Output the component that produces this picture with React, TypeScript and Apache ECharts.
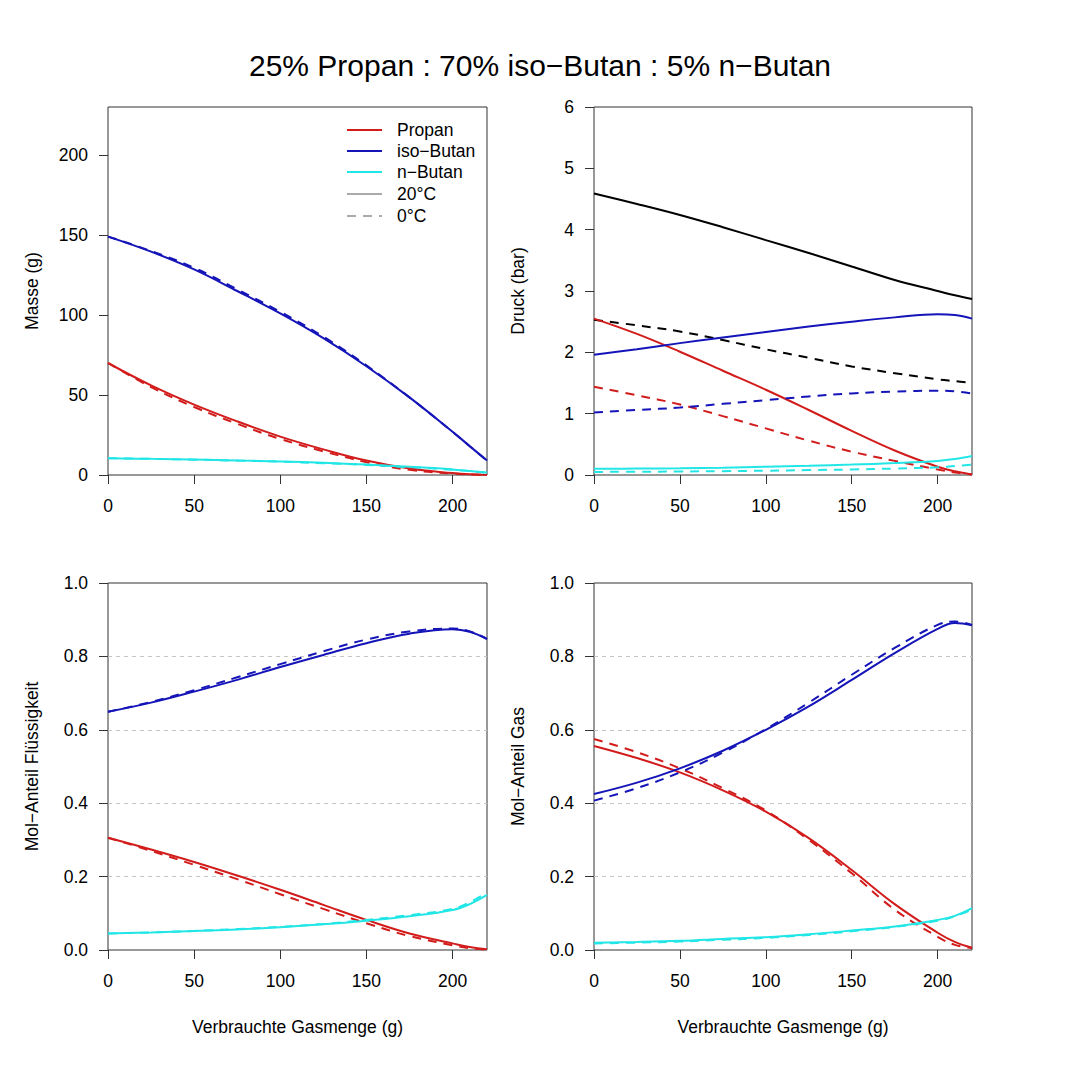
import React, { useEffect, useRef } from "react";
import * as echarts from "echarts";

const FONT = "'Liberation Sans', Arial, Helvetica, sans-serif";
const FS = 17.5;

const gasUsed = [0, 25, 50, 75, 100, 125, 150, 175, 200, 210, 220];
const xTicks = [0, 50, 100, 150, 200];

// Panel 1: Masse (g)
const massPropan20 = [70, 56, 44, 33.5, 24, 16, 9, 4, 1.2, 0.4, 0];
const massPropan0 = [70, 55, 42.5, 32, 22.5, 14.8, 8, 3.2, 0.9, 0.3, 0];
const massIso20 = [149, 139.6, 128.5, 115, 101, 85.5, 68, 48.5, 27, 18, 9];
const massIso0 = [149, 140, 129.5, 116, 102, 86.5, 68.5, 48.5, 27, 18, 9];
const massNbut20 = [10.5, 10.1, 9.7, 9.1, 8.5, 7.6, 6.5, 5.1, 3.5, 2.5, 1.5];
const massNbut0 = [10.5, 10.1, 9.6, 9.0, 8.3, 7.4, 6.3, 4.9, 3.3, 2.4, 1.5];
const massTicks = [0, 50, 100, 150, 200];

// Panel 2: Druck (bar)
const pTotal20 = [4.59, 4.42, 4.24, 4.04, 3.83, 3.62, 3.4, 3.18, 3.0, 2.93, 2.87];
const pTotal0 = [2.53, 2.44, 2.34, 2.2, 2.05, 1.91, 1.77, 1.66, 1.56, 1.53, 1.5];
const pPropan20 = [2.55, 2.3, 2.01, 1.7, 1.39, 1.06, 0.72, 0.4, 0.135, 0.06, 0.01];
const pPropan0 = [1.44, 1.3, 1.15, 0.96, 0.76, 0.56, 0.38, 0.23, 0.09, 0.04, 0.01];
const pIso20 = [1.96, 2.05, 2.15, 2.24, 2.33, 2.42, 2.5, 2.57, 2.62, 2.61, 2.55];
const pIso0 = [1.02, 1.06, 1.1, 1.16, 1.22, 1.28, 1.33, 1.36, 1.375, 1.365, 1.33];
const pNbut20 = [0.1, 0.105, 0.11, 0.12, 0.135, 0.15, 0.17, 0.195, 0.23, 0.26, 0.31];
const pNbut0 = [0.05, 0.053, 0.057, 0.063, 0.07, 0.08, 0.09, 0.105, 0.125, 0.145, 0.17];
const pTicks = [0, 1, 2, 3, 4, 5, 6];

// Panel 3: Mol-Anteil Flüssigkeit
const liqIso20 = [0.649, 0.674, 0.704, 0.736, 0.771, 0.804, 0.836, 0.862, 0.874, 0.867, 0.847];
const liqIso0 = [0.649, 0.676, 0.708, 0.743, 0.779, 0.814, 0.846, 0.868, 0.876, 0.868, 0.848];
const liqPropan20 = [0.306, 0.274, 0.24, 0.203, 0.164, 0.123, 0.082, 0.045, 0.018, 0.008, 0.002];
const liqPropan0 = [0.306, 0.27, 0.232, 0.193, 0.152, 0.112, 0.073, 0.038, 0.013, 0.005, 0.001];
const liqNbut20 = [0.045, 0.048, 0.052, 0.056, 0.062, 0.07, 0.08, 0.092, 0.109, 0.125, 0.15];
const liqNbut0 = [0.045, 0.048, 0.052, 0.057, 0.063, 0.071, 0.082, 0.095, 0.112, 0.13, 0.157];

// Panel 4: Mol-Anteil Gas
const gasIso20 = [0.425, 0.456, 0.495, 0.543, 0.6, 0.664, 0.736, 0.809, 0.875, 0.891, 0.885];
const gasIso0 = [0.407, 0.441, 0.484, 0.538, 0.602, 0.674, 0.75, 0.823, 0.886, 0.895, 0.886];
const gasPropan20 = [0.556, 0.523, 0.484, 0.435, 0.377, 0.305, 0.218, 0.125, 0.047, 0.022, 0.006];
const gasPropan0 = [0.575, 0.539, 0.495, 0.441, 0.38, 0.3, 0.209, 0.11, 0.036, 0.014, 0.005];
const gasNbut20 = [0.02, 0.022, 0.025, 0.03, 0.035, 0.043, 0.053, 0.064, 0.082, 0.093, 0.114];
const gasNbut0 = [0.018, 0.02, 0.023, 0.028, 0.033, 0.041, 0.051, 0.063, 0.08, 0.092, 0.11];
const fracTicks = [0, 0.2, 0.4, 0.6, 0.8, 1.0];

const legendNames = ["Propan", "iso\u2212Butan", "n\u2212Butan", "20\u00b0C", "0\u00b0C"];

const RED = "#d21c1c";
const BLUE = "#1414b8";
const CYAN = "#22e6e6";
const BLACK = "#000000";
const GRAY = "#aaaaaa";
const AXIS = "#333333";

const grids = [
  { left: 108, top: 107, width: 379, height: 368 },
  { left: 594, top: 107, width: 378, height: 368 },
  { left: 108, top: 583, width: 379, height: 367 },
  { left: 594, top: 583, width: 378, height: 367 },
];

function line(name: string, vals: number[], color: string, dashed: boolean, idx: number, z = 2) {
  return {
    type: "line",
    name,
    xAxisIndex: idx,
    yAxisIndex: idx,
    data: gasUsed.map((x, i) => [x, vals[i]]),
    showSymbol: false,
    symbol: "none",
    smooth: 0.4,
    z,
    lineStyle: { color, width: 2, type: dashed ? [9, 7] : "solid" },
    silent: true,
  };
}

function xAxis(idx: number, withName: boolean) {
  return {
    type: "value",
    gridIndex: idx,
    min: 0,
    max: 220,
    axisLine: { show: false },
    axisTick: { show: true, length: 9, lineStyle: { color: AXIS, width: 1 }, customValues: xTicks },
    axisLabel: { customValues: xTicks, margin: 22, fontSize: FS, color: "#000", fontFamily: FONT },
    splitLine: { show: false },
    name: withName ? "Verbrauchte Gasmenge (g)" : "",
    nameLocation: "middle",
    nameGap: 68,
    nameTextStyle: { fontSize: FS, color: "#000", fontFamily: FONT },
  };
}

function yAxis(idx: number, name: string, max: number, ticks: number[], fmt: (v: number) => string, grid: boolean) {
  return {
    type: "value",
    gridIndex: idx,
    min: 0,
    max,
    axisLine: { show: false },
    axisTick: { show: true, length: 9, lineStyle: { color: AXIS, width: 1 }, customValues: ticks },
    axisLabel: { customValues: ticks, margin: 20, fontSize: FS, color: "#000", fontFamily: FONT, formatter: fmt },
    splitLine: grid
      ? { show: true, showMinLine: false, showMaxLine: false, lineStyle: { color: "#c4c4c4", type: [4, 4], width: 1 } }
      : { show: false },
    interval: grid ? 0.2 : undefined,
    name,
    nameLocation: "middle",
    nameRotate: 90,
    nameGap: 67,
    nameTextStyle: { fontSize: FS, color: "#000", fontFamily: FONT },
  };
}

export default function App() {
  const ref = useRef<HTMLDivElement>(null);
  useEffect(() => {
    if (!ref.current) return;
    const chart = echarts.init(ref.current, null, { renderer: "svg" });
    const legendColors = [RED, BLUE, CYAN, GRAY, GRAY];
    const legendY = [130, 151, 172, 194, 216];
    const legendGraphics: any[] = [];
    legendNames.forEach((n, i) => {
      legendGraphics.push({
        type: "line",
        shape: { x1: 347, y1: legendY[i], x2: 382, y2: legendY[i] },
        style: { stroke: legendColors[i], lineWidth: 2, lineDash: i === 4 ? [9, 7] : null },
        z: 10,
      });
      legendGraphics.push({
        type: "text",
        x: 397,
        y: legendY[i],
        style: { text: n, fontSize: FS, fontFamily: FONT, fill: "#000", verticalAlign: "middle", align: "left" },
        z: 10,
      });
    });

    const int = (v: number) => String(v);
    const one = (v: number) => v.toFixed(1);

    chart.setOption({
      animation: false,
      backgroundColor: "#ffffff",
      title: {
        text: "25% Propan : 70% iso\u2212Butan : 5% n\u2212Butan",
        left: "center",
        top: 45,
        textStyle: { fontSize: 30, fontWeight: "normal", color: "#000", fontFamily: FONT },
      },
      grid: grids.map((g) => ({ ...g, show: true, borderColor: AXIS, borderWidth: 1, backgroundColor: "transparent" })),
      xAxis: [xAxis(0, false), xAxis(1, false), xAxis(2, true), xAxis(3, true)],
      yAxis: [
        yAxis(0, "Masse (g)", 230, massTicks, int, false),
        yAxis(1, "Druck (bar)", 6, pTicks, int, false),
        yAxis(2, "Mol\u2212Anteil Fl\u00fcssigkeit", 1, fracTicks, one, true),
        yAxis(3, "Mol\u2212Anteil Gas", 1, fracTicks, one, true),
      ],
      graphic: legendGraphics,
      series: [
        line("Propan 20°C", massPropan20, RED, false, 0),
        line("Propan 0°C", massPropan0, RED, true, 0),
        line("iso-Butan 20°C", massIso20, BLUE, false, 0),
        line("iso-Butan 0°C", massIso0, BLUE, true, 0),
        line("n-Butan 20°C", massNbut20, CYAN, false, 0),
        line("n-Butan 0°C", massNbut0, CYAN, true, 0),

        line("Gesamt 20°C", pTotal20, BLACK, false, 1),
        line("Gesamt 0°C", pTotal0, BLACK, true, 1),
        line("Propan 20°C", pPropan20, RED, false, 1),
        line("Propan 0°C", pPropan0, RED, true, 1),
        line("iso-Butan 20°C", pIso20, BLUE, false, 1),
        line("iso-Butan 0°C", pIso0, BLUE, true, 1),
        line("n-Butan 20°C", pNbut20, CYAN, false, 1),
        line("n-Butan 0°C", pNbut0, CYAN, true, 1),

        line("Propan 20°C", liqPropan20, RED, false, 2),
        line("Propan 0°C", liqPropan0, RED, true, 2),
        line("iso-Butan 20°C", liqIso20, BLUE, false, 2),
        line("iso-Butan 0°C", liqIso0, BLUE, true, 2),
        line("n-Butan 20°C", liqNbut20, CYAN, false, 2),
        line("n-Butan 0°C", liqNbut0, CYAN, true, 2),

        line("Propan 20°C", gasPropan20, RED, false, 3),
        line("Propan 0°C", gasPropan0, RED, true, 3),
        line("iso-Butan 20°C", gasIso20, BLUE, false, 3),
        line("iso-Butan 0°C", gasIso0, BLUE, true, 3),
        line("n-Butan 20°C", gasNbut20, CYAN, false, 3),
        line("n-Butan 0°C", gasNbut0, CYAN, true, 3),
      ],
    });
    return () => chart.dispose();
  }, []);
  return (
    <div
      ref={ref}
      style={{ position: "fixed", left: 0, top: 0, width: 1080, height: 1080, background: "#fff" }}
    />
  );
}
